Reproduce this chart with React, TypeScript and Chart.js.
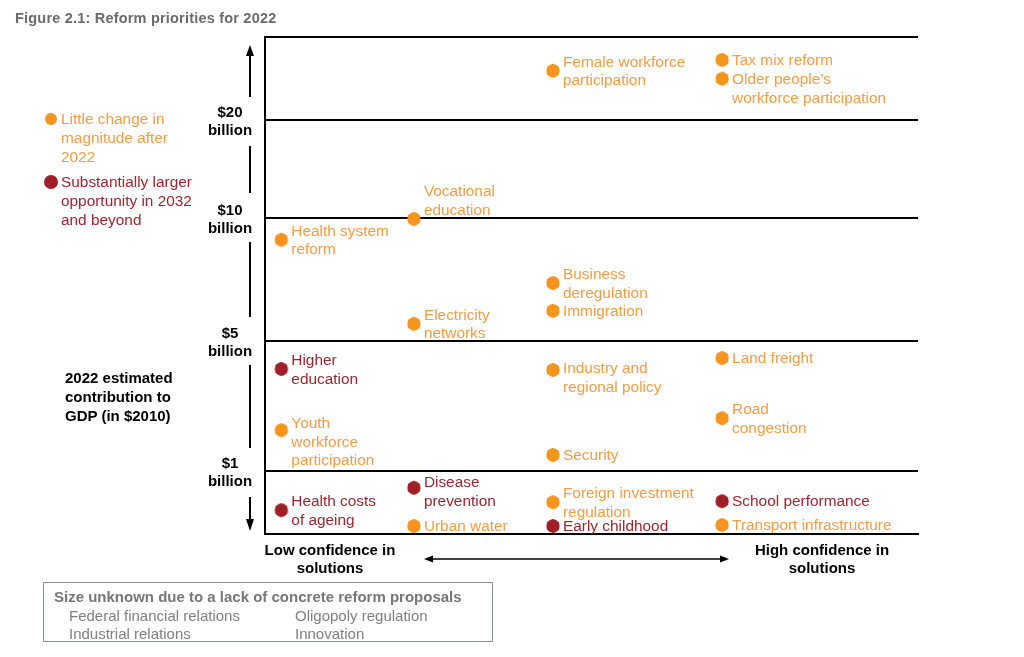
import React, { useEffect, useRef } from "react";
import { Chart, registerables } from "chart.js";

Chart.register(...registerables);

// ---------- data ----------
const title = "Figure 2.1: Reform priorities for 2022";

// y position scale 0..100 (bottom..top); band boundaries between size classes
const bandBoundaries = [0, 12.7, 38.8, 63.6, 83.3, 100];
const boundaryLabels = ["", "$1|billion", "$5|billion", "$10|billion", "$20|billion", ""];

// x position of the confidence columns (0..100, low -> high confidence)
const columnPositions = [2.5, 22.8, 44.1, 70.0];

const reformNames = [
  "Female workforce|participation",
  "Tax mix reform",
  "Older people\u2019s|workforce participation",
  "Vocational|education",
  "Health system|reform",
  "Business|deregulation",
  "Immigration",
  "Electricity|networks",
  "Higher|education",
  "Industry and|regional policy",
  "Land freight",
  "Road|congestion",
  "Youth|workforce|participation",
  "Security",
  "Disease|prevention",
  "Health costs|of ageing",
  "Foreign investment|regulation",
  "School performance",
  "Urban water",
  "Early childhood",
  "Transport infrastructure",
];
const reformColumn = [2, 3, 3, 1, 0, 2, 2, 1, 0, 2, 3, 3, 0, 2, 1, 0, 2, 3, 1, 2, 3];
const reformPosition = [93.2, 95.4, 91.6, 63.4, 59.2, 50.5, 44.9, 42.3, 33.2, 33.0, 35.4, 23.3, 20.9, 15.9, 9.3, 4.8, 6.4, 6.6, 1.6, 1.6, 1.8];
// 0 = little change in magnitude after 2022, 1 = substantially larger opportunity in 2032 and beyond
const reformGroup = [0, 0, 0, 0, 0, 0, 0, 0, 1, 0, 0, 0, 0, 0, 1, 1, 0, 1, 0, 1, 0];
// vertical label shift (in lines) relative to centred text
const labelShift = [0, 0, 0.5, -1, 0, 0, 0, 0, 0, 0.4, 0, 0, 0.6, 0, 0.2, 0, 0, 0, 0, 0, 0];

const groupNames = ["Little change in|magnitude after|2022", "Substantially larger|opportunity in 2032|and beyond"];
const unknownTitle = "Size unknown due to a lack of concrete reform proposals";
const unknownItems = ["Federal financial relations", "Oligopoly regulation", "Industrial relations", "Innovation"];

// ---------- style ----------
const ORANGE = "#F7941E";
const ORANGE_TEXT = "#F59C45";
const RED = "#A01F27";
const RED_TEXT = "#9C2530";
const FONT = "'Liberation Sans', Arial, sans-serif";

function hexagon(color: string, r: number) {
  const c = document.createElement("canvas");
  const s = Math.ceil(r * 2 + 2);
  c.width = s;
  c.height = s;
  const ctx = c.getContext("2d")!;
  ctx.fillStyle = color;
  ctx.beginPath();
  for (let i = 0; i < 6; i++) {
    const a = (Math.PI / 3) * i + Math.PI / 6;
    const x = s / 2 + r * Math.cos(a);
    const y = s / 2 + r * Math.sin(a);
    if (i === 0) ctx.moveTo(x, y);
    else ctx.lineTo(x, y);
  }
  ctx.closePath();
  ctx.fill();
  ctx.beginPath();
  ctx.arc(s / 2, s / 2, r * 0.95, 0, Math.PI * 2);
  ctx.fill();
  return c;
}

const decorPlugin = {
  id: "decor",
  afterDatasetsDraw(chart: any) {
    const ctx = chart.ctx;
    const ys = chart.scales.y;
    const meta = chart.getDatasetMeta(0);
    ctx.save();
    // point labels
    ctx.font = `15.4px ${FONT}`;
    ctx.textBaseline = "middle";
    ctx.textAlign = "left";
    const lh = 18.8;
    meta.data.forEach((pt: any, i: number) => {
      const lines = reformNames[i].split("|");
      ctx.fillStyle = reformGroup[i] === 1 ? RED_TEXT : ORANGE_TEXT;
      const y0 = pt.y + 1 - ((lines.length - 1) / 2) * lh + labelShift[i] * lh;
      lines.forEach((l, k) => ctx.fillText(l, pt.x + 10, y0 + k * lh));
    });
    // boundary labels
    ctx.font = `bold 15px ${FONT}`;
    ctx.fillStyle = "#000";
    ctx.textAlign = "center";
    bandBoundaries.forEach((v, i) => {
      if (!boundaryLabels[i]) return;
      const py = ys.getPixelForValue(v);
      const lines = boundaryLabels[i].split("|");
      ctx.fillText(lines[0], 230, py - 7.5);
      ctx.fillText(lines[1], 230, py + 10.5);
    });
    // vertical arrow segments
    ctx.strokeStyle = "#000";
    ctx.fillStyle = "#000";
    ctx.lineWidth = 2;
    const segs = [
      [52, 97],
      [146, 193],
      [242, 317],
      [365, 448],
      [497, 524],
    ];
    segs.forEach(([a, b]) => {
      ctx.beginPath();
      ctx.moveTo(250, a);
      ctx.lineTo(250, b);
      ctx.stroke();
    });
    ctx.beginPath();
    ctx.moveTo(250, 45);
    ctx.lineTo(246, 56);
    ctx.lineTo(254, 56);
    ctx.closePath();
    ctx.fill();
    ctx.beginPath();
    ctx.moveTo(250, 531);
    ctx.lineTo(246, 519);
    ctx.lineTo(254, 519);
    ctx.closePath();
    ctx.fill();
    // horizontal double arrow
    ctx.lineWidth = 1.5;
    ctx.beginPath();
    ctx.moveTo(430, 559);
    ctx.lineTo(723, 559);
    ctx.stroke();
    ctx.beginPath();
    ctx.moveTo(424, 559);
    ctx.lineTo(433, 555.5);
    ctx.lineTo(433, 562.5);
    ctx.closePath();
    ctx.fill();
    ctx.beginPath();
    ctx.moveTo(729, 559);
    ctx.lineTo(720, 555.5);
    ctx.lineTo(720, 562.5);
    ctx.closePath();
    ctx.fill();
    ctx.restore();
  },
};

function Lines({ text }: { text: string }) {
  return (
    <>
      {text.split("|").map((l, i) => (
        <div key={i}>{l}</div>
      ))}
    </>
  );
}

export default function App() {
  const ref = useRef<HTMLCanvasElement>(null);
  useEffect(() => {
    const orangePt = hexagon(ORANGE, 7);
    const redPt = hexagon(RED, 7);
    const chart = new Chart(ref.current!, {
      type: "scatter",
      data: {
        datasets: [
          {
            data: reformPosition.map((y, i) => ({ x: columnPositions[reformColumn[i]], y })),
            pointStyle: reformGroup.map((g) => (g === 1 ? redPt : orangePt)) as any,
            clip: false as any,
          },
        ],
      },
      options: {
        animation: false,
        responsive: false,
        events: [],
        layout: { padding: { left: 265, right: 106, top: 37, bottom: 123 } },
        plugins: { legend: { display: false }, tooltip: { enabled: false } },
        scales: {
          x: {
            type: "linear",
            min: 0,
            max: 100,
            ticks: { display: false },
            grid: { display: false, drawTicks: false },
            border: { display: true, color: "#000", width: 2 },
            afterFit: (s: any) => {
              s.height = 0;
            },
          },
          y: {
            type: "linear",
            min: 0,
            max: 100,
            afterBuildTicks: (s: any) => {
              s.ticks = bandBoundaries.map((v) => ({ value: v }));
            },
            ticks: { display: false },
            grid: { display: true, color: "#000", lineWidth: 2, drawTicks: false },
            border: { display: true, color: "#000", width: 2 },
            afterFit: (s: any) => {
              s.width = 0;
            },
          },
        },
      },
      plugins: [decorPlugin],
    });
    return () => chart.destroy();
  }, []);

  const base: React.CSSProperties = { position: "absolute", fontFamily: FONT, whiteSpace: "nowrap" };

  return (
    <div style={{ position: "absolute", left: 0, top: 0, width: 1024, height: 657, background: "#fff", overflow: "hidden" }}>
      <canvas ref={ref} width={1024} height={657} style={{ position: "absolute", left: 0, top: 0, width: 1024, height: 657 }} />
      <div style={{ ...base, left: 15, top: 10, fontSize: 14.5, fontWeight: "bold", color: "#6b6b6b", letterSpacing: 0.2 }}>{title}</div>
      <div style={{ ...base, left: 45, top: 110, fontSize: 15.4, lineHeight: "18.8px" }}>
        <div style={{ position: "relative", color: ORANGE_TEXT, paddingLeft: 16 }}>
          <span style={{ position: "absolute", left: 0, top: 3, width: 12, height: 12, borderRadius: 6, background: ORANGE }} />
          <Lines text={groupNames[0]} />
        </div>
        <div style={{ position: "relative", color: RED_TEXT, paddingLeft: 16, marginTop: 7 }}>
          <span style={{ position: "absolute", left: -1, top: 2, width: 14, height: 14, borderRadius: 7, background: RED }} />
          <Lines text={groupNames[1]} />
        </div>
      </div>
      <div style={{ ...base, left: 65, top: 368, fontSize: 15, fontWeight: "bold", lineHeight: "19px", color: "#000" }}>
        <Lines text="2022 estimated|contribution to|GDP (in $2010)" />
      </div>
      <div style={{ ...base, left: 230, width: 200, top: 541, fontSize: 15, fontWeight: "bold", lineHeight: "18px", textAlign: "center", color: "#000" }}>
        <Lines text="Low confidence in|solutions" />
      </div>
      <div style={{ ...base, left: 722, width: 200, top: 541, fontSize: 15, fontWeight: "bold", lineHeight: "18px", textAlign: "center", color: "#000" }}>
        <Lines text="High confidence in|solutions" />
      </div>
      <div
        style={{
          ...base,
          left: 43,
          top: 582,
          width: 450,
          height: 60,
          border: "1.5px solid #8c9097",
          boxSizing: "border-box",
        }}
      >
        <div style={{ position: "absolute", left: 10, top: 5, fontSize: 15, fontWeight: "bold", color: "#777" }}>{unknownTitle}</div>
        <div style={{ position: "absolute", left: 25, top: 24, fontSize: 15, lineHeight: "18px", color: "#808080" }}>
          <div>{unknownItems[0]}</div>
          <div>{unknownItems[2]}</div>
        </div>
        <div style={{ position: "absolute", left: 251, top: 24, fontSize: 15, lineHeight: "18px", color: "#808080" }}>
          <div>{unknownItems[1]}</div>
          <div>{unknownItems[3]}</div>
        </div>
      </div>
    </div>
  );
}
